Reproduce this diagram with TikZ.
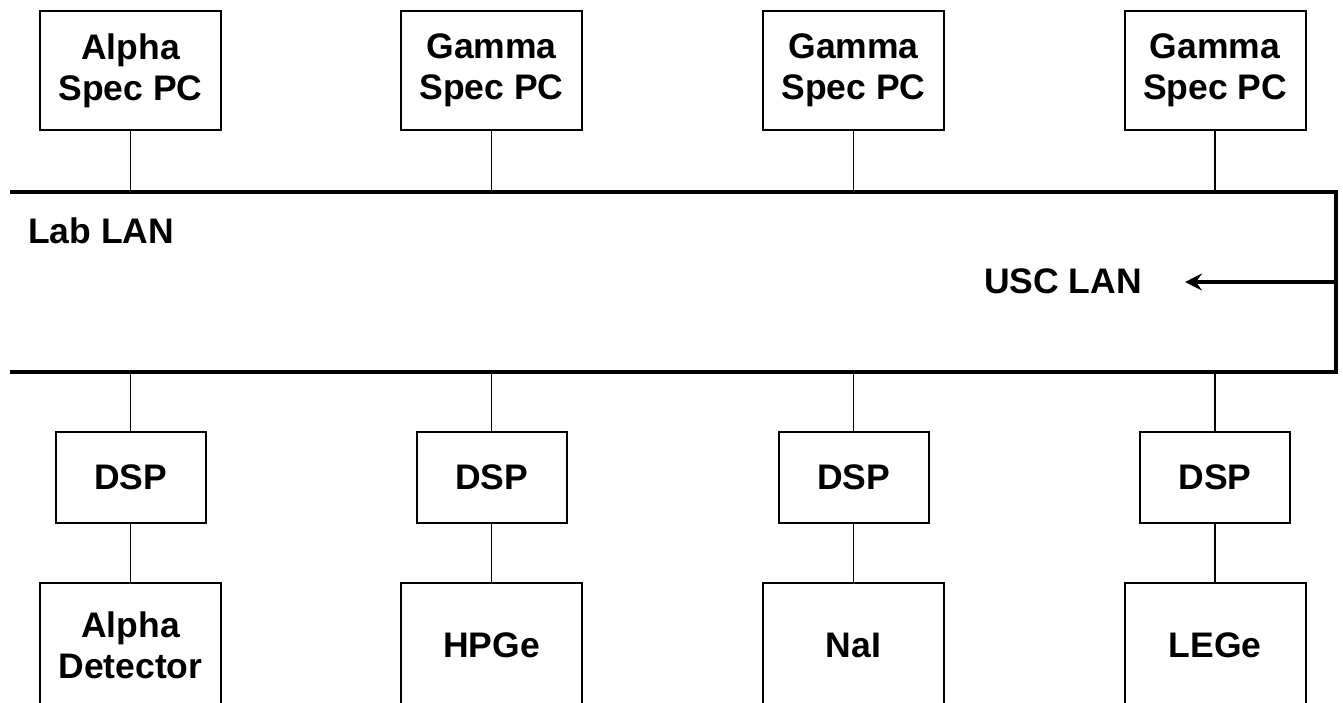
\documentclass[tikz,border=0pt]{standalone}
\usepackage{fontspec}
\setmainfont{Liberation Sans}
\usetikzlibrary{arrows.meta}
\tikzset{
  box/.style={draw=black, line width=2pt, fill=white, align=center, inner sep=0pt,
    font=\fontsize{35.5}{41}\selectfont\bfseries},
  pcbox/.style={box, minimum width=181pt, minimum height=119pt},
  dspbox/.style={box, minimum width=150pt, minimum height=91pt},
  detbox/.style={box, minimum width=181pt, minimum height=124pt},
  wire/.style={draw=black, line width=1.6pt},
  lan/.style={draw=black, line width=4.5pt},
  lbl/.style={font=\fontsize{35.5}{41}\selectfont\bfseries, inner sep=0pt, anchor=base west},
}
\begin{document}
\begin{tikzpicture}[x=1pt,y=-1pt]
\useasboundingbox (0,0) rectangle (1343,702);
\clip (0,0) rectangle (1343,702);
\fill[white] (0,0) rectangle (1343,702);
% LAN
\draw[lan, line join=miter] (10,192) -- (1336,192) -- (1336,372) -- (10,372);
\node[lbl] (lab) at (28,243) {Lab LAN};
\node[lbl] (usc) at (984,293) {USC LAN};
\coordinate (uscin) at (1336,282);
\coordinate (usctip) at (1185,282);
\draw[line width=3.5pt, -{Stealth[length=17pt,width=17pt,inset=6pt]}] (uscin) -- (usctip);
% columns
\foreach \i/\x/\top/\bot in {1/130.5/{Alpha\\Spec PC}/{Alpha\\Detector},
                             2/491.5/{Gamma\\Spec PC}/HPGe,
                             3/853.5/{Gamma\\Spec PC}/NaI,
                             4/1215/{Gamma\\Spec PC}/LEGe}{
  \node[pcbox] (pc\i) at (\x,70.5) {\top};
  \coordinate (lt\i) at (\x,192);
  \coordinate (lb\i) at (\x,372);
  \node[dspbox] (dsp\i) at (\x,477.5) {DSP};
  \node[detbox] (det\i) at (\x,645) {\bot};
  \draw[wire] (pc\i.south) -- (lt\i);
  \draw[wire] (lb\i) -- (dsp\i.north);
  \draw[wire] (dsp\i.south) -- (det\i.north);
}
\end{tikzpicture}
\end{document}
